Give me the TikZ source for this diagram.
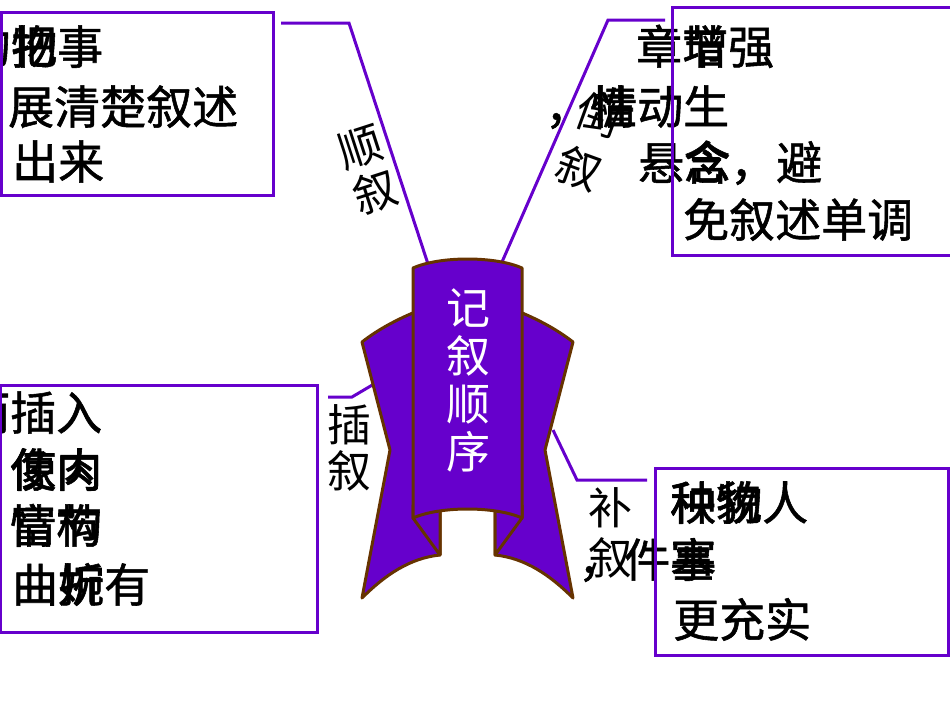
\documentclass[tikz,border=0pt]{standalone}
\usepackage{fontspec}
\setmainfont{Noto Sans CJK SC}
\newfontfamily\boxfont{Noto Sans CJK SC}[FakeBold=1.2]
\newcommand\ov[2]{\rlap{#1}#2}
\definecolor{boxpurple}{RGB}{102,0,204}
\definecolor{ribpurple}{RGB}{102,0,204}
\definecolor{ribbrown}{RGB}{102,51,0}
\tikzset{
  boxtxt/.style={anchor=base west, inner sep=0pt, font=\boxfont\fontsize{46}{48}\selectfont},
  lbl/.style={inner sep=0pt, align=center, font=\fontsize{44}{47}\selectfont},
  frame/.style={draw=boxpurple, line width=3pt, inner sep=0pt, outer sep=0pt},
  link/.style={draw=boxpurple, line width=3pt},
  ribbon/.style={fill=ribpurple, draw=ribbrown, line width=3pt, line join=round}
}
\begin{document}
\begin{tikzpicture}[x=1pt,y=-1pt]
\useasboundingbox (0,0) rectangle (950,713);
% connector corners
\coordinate (tlA) at (281,23);
\coordinate (tlB) at (349,23);
\coordinate (tlC) at (428,264);
\coordinate (trA) at (665,20);
\coordinate (trB) at (608,20);
\coordinate (trC) at (502,262);
\coordinate (blA) at (328,397);
\coordinate (blB) at (352,397);
\coordinate (blC) at (374,384);
\coordinate (brA) at (553,430);
\coordinate (brB) at (577,480);
\coordinate (brC) at (647,480);
\draw[link] (tlA) -- (tlB) -- (tlC);
\draw[link] (trA) -- (trB) -- (trC);
\draw[link] (blA) -- (blB) -- (blC);
\draw[link] (brA) -- (brB) -- (brC);
% ribbon
\draw[ribbon] (362,342) .. controls (380,328) and (400,318) .. (420,310) -- (440,312) -- (440,555)
  .. controls (410,558) and (385,575) .. (362,598) -- (390,450) -- cycle;
\draw[ribbon] (573,342) .. controls (555,328) and (535,318) .. (515,310) -- (495,312) -- (495,555)
  .. controls (525,558) and (550,575) .. (573,598) -- (545,450) -- cycle;
\draw[ribbon] (413,505) -- (440,505) -- (440,555) -- (413,518) -- cycle;
\draw[ribbon] (522,505) -- (495,505) -- (495,555) -- (522,518) -- cycle;
\draw[ribbon] (413,268) .. controls (440,256) and (495,256) .. (522,268) -- (522,518)
  .. controls (495,506) and (440,506) .. (413,518) -- cycle;
\node[lbl, text=white, font=\fontsize{44}{48}\selectfont] (title) at (468,380) {记\\叙\\顺\\序};
% branch labels
\node[lbl, rotate=18] (shun) at (368,170) {顺\\叙};
\node[lbl, rotate=-20, font=\fontsize{44}{57}\selectfont] (dao) at (589,142) {倒\\叙};
\node[lbl, font=\fontsize{44}{46}\selectfont] (cha) at (349,448) {插\\叙};
\node[lbl, font=\fontsize{44}{50}\selectfont] (bu) at (610,533) {补\\叙};
% box texts
\node[boxtxt] (tl1) at (-35,64) {的\ov{物}{把}事};
\node[boxtxt] (tl2) at (8,124) {展清楚叙述};
\node[boxtxt] (tl3) at (12,179) {出来};
\node[boxtxt] (tr1) at (636,64) {章\ov{增}{节}强};
\node[boxtxt] (tr2) at (545,124) {，\ov{性}{情}动生};
\node[boxtxt] (tr3) at (638,180) {悬\ov{念}{含}，避};
\node[boxtxt] (tr4) at (683,237) {免叙述单调};
\node[boxtxt] (bl1) at (-36,430) {而插入};
\node[boxtxt] (bl2) at (10,487) {\ov{像}{使}\ov{内}{肉}};
\node[boxtxt] (bl3) at (10,543) {\ov{情}{富}\ov{节}{构}};
\node[boxtxt] (bl4) at (12,602) {曲\ov{折}{婉}有};
\node[boxtxt] (br1) at (670,520) {\ov{种}{秧}\ov{物}{貌}人};
\node[boxtxt] (br2) at (578,577) {，件\ov{事}{塞}};
\node[boxtxt] (br3) at (673,637) {更充实};
% boxes
\node[frame, minimum width=272pt, minimum height=183pt] (boxTL) at (137,103.5) {};
\node[frame, minimum width=290pt, minimum height=248pt] (boxTR) at (817,131) {};
\node[frame, minimum width=317pt, minimum height=247pt] (boxBL) at (159,508.5) {};
\node[frame, minimum width=293pt, minimum height=187pt] (boxBR) at (801.5,561.5) {};
\end{tikzpicture}
\end{document}
